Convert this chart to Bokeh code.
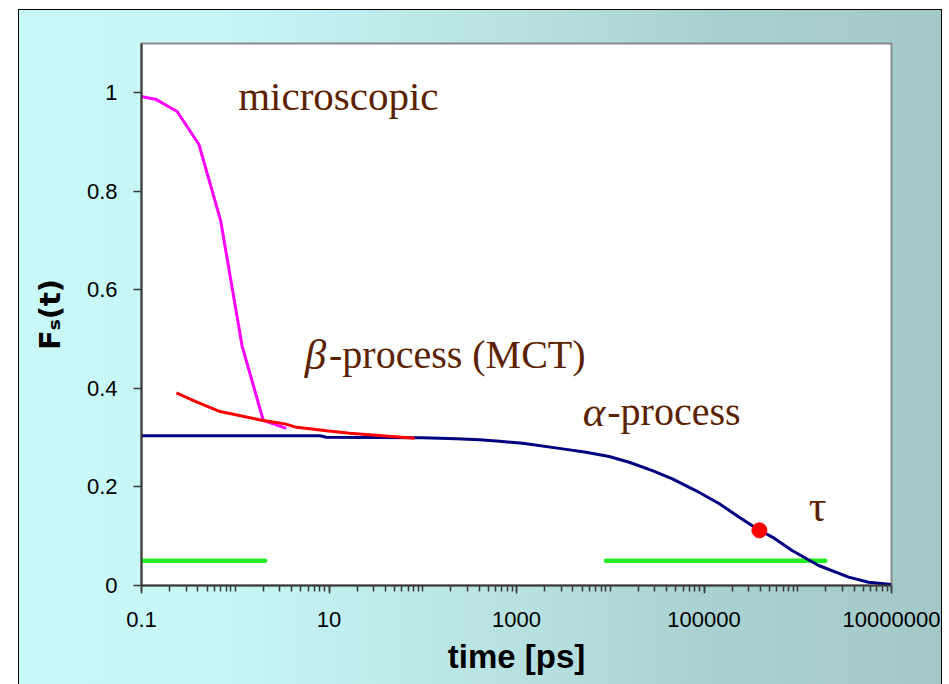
import numpy as np
from bokeh.plotting import figure
from bokeh.models import FixedTicker, Label, Range1d
from bokeh.embed import file_html
from bokeh.resources import INLINE

# ---- data ----
micro_t = [0.083, 0.141, 0.24, 0.41, 0.70, 1.18, 1.99, 3.5]
micro_f = [0.995, 0.987, 0.962, 0.895, 0.74, 0.487, 0.335, 0.319]

beta_t = [0.236, 0.391, 0.69, 1.97, 3.4, 4.5, 9.4, 16.7, 82]
beta_f = [0.391, 0.372, 0.353, 0.335, 0.328, 0.321, 0.314, 0.309, 0.299]

alpha_t = [0.083, 8, 9.4, 100, 228, 404, 659, 1167, 3110, 5510, 9750, 15920,
           28180, 46000, 81600, 144500, 235600, 384600, 555600, 869600,
           1.67e6, 3.49e6, 5.69e6, 1e7]
alpha_f = [0.304, 0.304, 0.301, 0.300, 0.298, 0.2956, 0.2928, 0.2887, 0.2773,
           0.2704, 0.2617, 0.2502, 0.2333, 0.2164, 0.1927, 0.1663, 0.1392,
           0.1128, 0.0966, 0.071, 0.0406, 0.017, 0.0067, 0.002]

green_left_t = [0.083, 2.08]
green_right_t = [9000, 1.97e6]
green_f = [0.05, 0.05]

tau_t = [3.9e5]
tau_f = [0.112]

x_ticks = [0.1, 10, 1000, 1e5, 1e7]
x_labels = ["0.1", "10", "1000", "100000", "10000000"]
y_ticks = [0, 0.2, 0.4, 0.6, 0.8, 1.0]
y_labels = ["0", "0.2", "0.4", "0.6", "0.8", "1"]

notes = ["microscopic", "-process (MCT)", "-process", "\u03c4"]
greek = ["\u03b2", "\u03b1"]

# ---- figure ----
p = figure(width=924, height=675, x_axis_type="log",
           x_range=Range1d(0.1, 1e7), y_range=Range1d(0, 1.1),
           output_backend="svg", toolbar_location=None,
           min_border_left=122, min_border_top=33, min_border_right=52,
           min_border_bottom=100)
p.margin = (9, 0, 0, 18)
p.styles = {
    "border": "1px solid black",
    "border-bottom": "none",
    "background": "linear-gradient(90deg, #c8f8f8 0%, #c6f6f6 22%, #bae4e4 50%, #aad1d1 75%, #a3c8c8 100%)",
}
p.border_fill_color = None
p.background_fill_color = "white"
p.outline_line_color = "#8a8a8a"
p.outline_line_width = 2
p.grid.visible = False

minor = [m * 10.0 ** e for e in range(-1, 7) for m in range(1, 10)] + [1e7]
p.xaxis.ticker = FixedTicker(ticks=x_ticks, minor_ticks=minor)
p.xaxis.major_label_overrides = {t: l for t, l in zip(x_ticks, x_labels)}
p.yaxis.ticker = FixedTicker(ticks=y_ticks, minor_ticks=[])
p.yaxis.major_label_overrides = {t: l for t, l in zip(y_ticks, y_labels)}

for ax in (p.xaxis, p.yaxis):
    ax.axis_line_color = "#3a3a3a"
    ax.axis_line_width = 2
    ax.major_tick_line_color = "#3a3a3a"
    ax.minor_tick_line_color = "#3a3a3a"
    ax.major_tick_line_width = 1.5
    ax.minor_tick_line_width = 1.5
    ax.major_tick_in = 0
    ax.major_tick_out = 8
    ax.minor_tick_in = 0
    ax.minor_tick_out = 6
    ax.major_label_text_font = "Liberation Sans"
    ax.major_label_text_font_size = "22px"
    ax.major_label_text_color = "black"

p.xaxis.major_label_standoff = 18
p.yaxis.major_label_standoff = 16
p.xaxis.axis_label = "time [ps]"
p.xaxis.axis_label_text_font = "Liberation Sans"
p.xaxis.axis_label_text_font_size = "33px"
p.xaxis.axis_label_text_font_style = "bold"
p.xaxis.axis_label_text_color = "black"
p.xaxis.axis_label_standoff = 8

p.yaxis.axis_label = "F\u209b(t)"
p.yaxis.axis_label_text_font = "DejaVu Sans"
p.yaxis.axis_label_text_font_size = "29px"
p.yaxis.axis_label_text_font_style = "bold"
p.yaxis.axis_label_text_color = "black"
p.yaxis.axis_label_standoff = 17

# ---- series ----
p.line(green_left_t, green_f, line_color="#22ee22", line_width=4.5, line_cap="round")
p.line(green_right_t, green_f, line_color="#22ee22", line_width=4.5, line_cap="round")
p.line(alpha_t, alpha_f, line_color="#000080", line_width=3)
p.line(micro_t, micro_f, line_color="#ff00ff", line_width=3)
p.line(beta_t, beta_f, line_color="#ff0000", line_width=3)
p.scatter(tau_t, tau_f, size=15, color="#ff0000")

# ---- annotations ----
brown = "#5c2200"
serif = "Liberation Serif"
def lab(x, y, t, size, style="normal"):
    p.add_layout(Label(x=x, y=y, text=t, text_font=serif, text_font_size=size,
                       text_font_style=style, text_color=brown, text_align="left",
                       text_baseline="alphabetic"))

dy = 0.024
lab(1.075, 0.9696 + dy, notes[0], "41px")
lab(5.5, 0.444 + dy, greek[0], "43px", style="italic")
lab(10.0, 0.444 + dy, notes[1], "40px")
lab(5100, 0.3286 + dy, greek[1], "43px", style="italic")
lab(9300, 0.3286 + dy, notes[2], "40px")
lab(1.31e6, 0.136 + dy, notes[3], "44px")

open("out.html", "w").write(file_html(p, INLINE))
